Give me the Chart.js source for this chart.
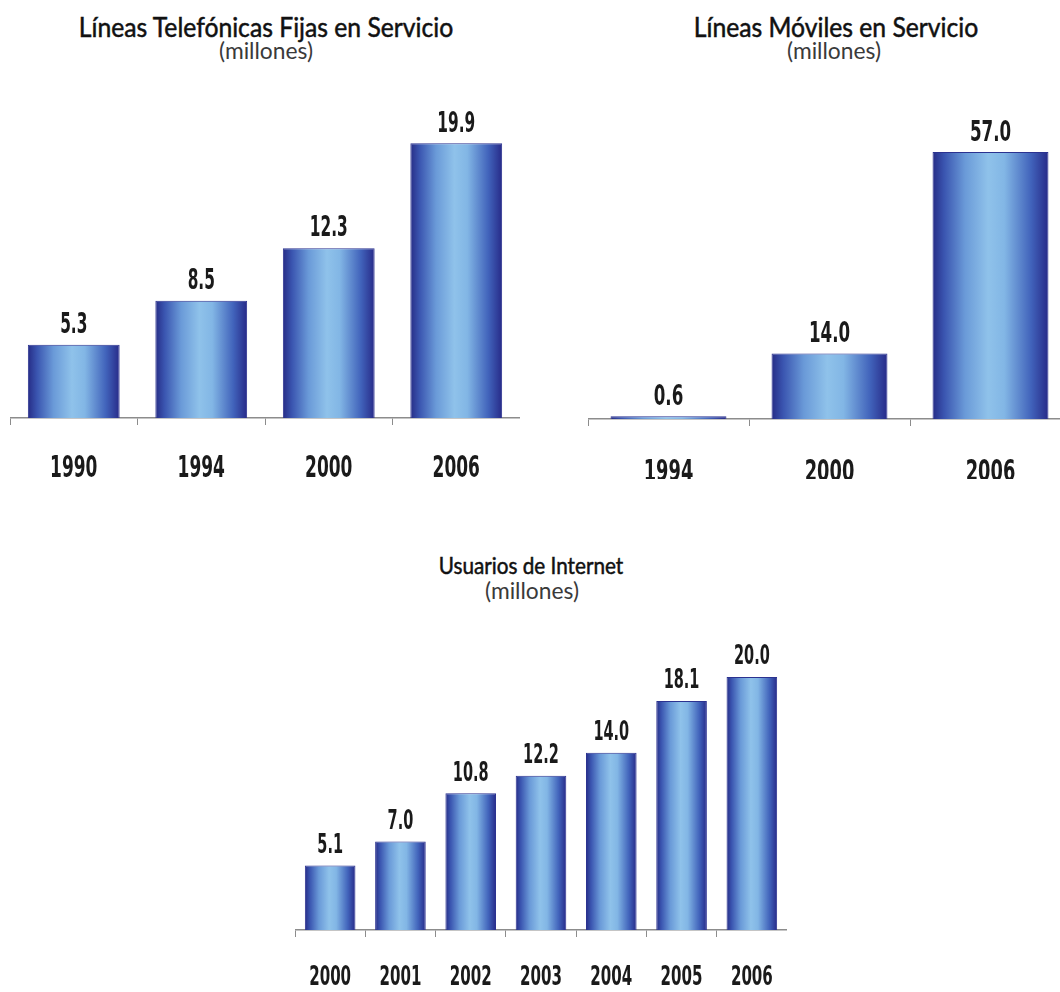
<!DOCTYPE html>
<html><head><meta charset="utf-8">
<script src="https://cdn.jsdelivr.net/npm/chart.js@4.4.1/dist/chart.umd.min.js"></script>
<style>
html,body{margin:0;padding:0;background:#fff;width:1060px;height:992px;overflow:hidden;position:relative;}
.box{position:absolute;}
.t{position:absolute;white-space:nowrap;font-family:Lato,"Open Sans",sans-serif;text-align:center;transform-origin:50% 50%;}
.big{font-size:26px;color:#111;-webkit-text-stroke:0.5px #111;}
.mid{font-size:23px;color:#111;-webkit-text-stroke:0.5px #111;}
.sub{font-size:24px;color:#3a3a3a;}
</style></head><body>
<div class="t big" style="left:266px;top:11px;transform:translateX(-50%) scaleX(0.95)">Líneas Telefónicas Fijas en Servicio</div>
<div class="t sub" style="left:266px;top:35px;transform:translateX(-50%) scaleX(0.95)">(millones)</div>
<div class="t big" style="left:836px;top:11px;transform:translateX(-50%) scaleX(0.95)">Líneas Móviles en Servicio</div>
<div class="t sub" style="left:834px;top:35px;transform:translateX(-50%) scaleX(0.95)">(millones)</div>
<div class="t mid" style="left:531px;top:551px;transform:translateX(-50%) scaleX(0.9)">Usuarios de Internet</div>
<div class="t sub" style="left:532px;top:575px;transform:translateX(-50%) scaleX(0.95)">(millones)</div>

<div class="box" style="left:10px;top:95px;width:510px;height:383px"><canvas id="c1"></canvas></div>
<div class="box" style="left:588px;top:95px;width:483px;height:384px"><canvas id="c2"></canvas></div>
<div class="box" style="left:295px;top:620px;width:492px;height:370px"><canvas id="c3"></canvas></div>

<script>
// ---- data ----
const fixedYears = ['1990', '1994', '2000', '2006'];
const fixedLines = [5.3, 8.5, 12.3, 19.9];

const mobileYears = ['1994', '2000', '2006'];
const mobileLines = [0.6, 14.0, 57.0];

const internetYears = ['2000', '2001', '2002', '2003', '2004', '2005', '2006'];
const internetUsers = [5.1, 7.0, 10.8, 12.2, 14.0, 18.1, 20.0];

// ---- styling helpers ----
const NARROW = '"DejaVu Sans Condensed","Liberation Sans Narrow",sans-serif';
const BAR_PCT = 0.72;
const DIGIT_H = 0.729; // DejaVu digit height / em

function barGradient(c) {
  const chart = c.chart;
  const xs = chart.scales.x;
  if (!chart.chartArea || !xs) return '#5a86cc';
  const cx = xs.getPixelForValue(c.dataIndex);
  const w = (xs.width / chart.data.labels.length) * BAR_PCT;
  const g = chart.ctx.createLinearGradient(cx - w / 2, 0, cx + w / 2, 0);
  g.addColorStop(0.00, '#262c86');
  g.addColorStop(0.10, '#3a55b0');
  g.addColorStop(0.28, '#6a9ad8');
  g.addColorStop(0.48, '#8fc2ea');
  g.addColorStop(0.62, '#82b6e5');
  g.addColorStop(0.85, '#4163bb');
  g.addColorStop(1.00, '#272a88');
  return g;
}

function narrowText(ctx, text, x, yCenter, size, sx) {
  ctx.save();
  ctx.font = 'bold ' + size + 'px ' + NARROW;
  ctx.fillStyle = '#1a1a1a';
  ctx.textAlign = 'center';
  ctx.textBaseline = 'alphabetic';
  ctx.translate(x, yCenter + size * DIGIT_H / 2);
  ctx.scale(sx, 1);
  ctx.fillText(text, 0, 0);
  ctx.restore();
}

const narrowLabels = {
  id: 'narrowLabels',
  afterDraw(chart, args, o) {
    const ctx = chart.ctx;
    const xs = chart.scales.x;
    const meta = chart.getDatasetMeta(0);
    const vals = chart.data.datasets[0].data;
    meta.data.forEach((el, i) => {
      narrowText(ctx, vals[i].toFixed(1), el.x, el.y - o.valOffset, o.valSize, o.sx);
    });
    chart.data.labels.forEach((lab, i) => {
      narrowText(ctx, lab, xs.getPixelForValue(i), xs.top + o.tickOffset, o.tickSize, o.sx);
    });
  }
};

function makeChart(id, labels, values, yMax, lab) {
  return new Chart(document.getElementById(id), {
    type: 'bar',
    data: {
      labels: labels,
      datasets: [{
        data: values,
        backgroundColor: barGradient,
        borderColor: '#2b3290',
        borderWidth: 1,
        barPercentage: BAR_PCT,
        categoryPercentage: 1.0
      }]
    },
    options: {
      responsive: true,
      maintainAspectRatio: false,
      animation: false,
      layout: { padding: 0 },
      plugins: {
        legend: { display: false },
        tooltip: { enabled: false },
        narrowLabels: lab
      },
      scales: {
        x: {
          grid: { offset: true, drawOnChartArea: false, drawTicks: true, tickLength: 7, color: '#8c8c8c', lineWidth: 1 },
          border: { display: true, color: '#8c8c8c', width: 1.5 },
          ticks: { display: false },
          afterFit(s) { s.height = 60; }
        },
        y: { display: false, min: 0, max: yMax }
      }
    },
    plugins: [narrowLabels]
  });
}

makeChart('c1', fixedYears, fixedLines, 23.4, { tickSize: 31, valSize: 28, sx: 0.61, tickOffset: 48, valOffset: 22 });
makeChart('c2', mobileYears, mobileLines, 69.2, { tickSize: 31, valSize: 29, sx: 0.64, tickOffset: 51, valOffset: 22 });
makeChart('c3', internetYears, internetUsers, 24.5, { tickSize: 27, valSize: 26, sx: 0.62, tickOffset: 45, valOffset: 22 });
</script>
</body></html>
